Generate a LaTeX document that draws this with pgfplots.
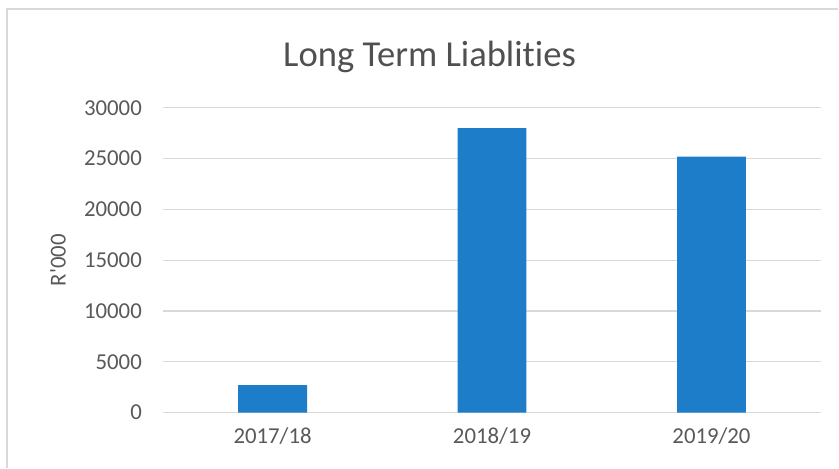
\documentclass[border=0pt]{standalone}
\usepackage{fontspec}
\setmainfont{Carlito}[Ligatures=CommonOff]
\usepackage{pgfplots}
\pgfplotsset{compat=1.18}
\definecolor{barblue}{HTML}{1E7DC8}
\definecolor{gridgray}{HTML}{D9D9D9}
\definecolor{textgray}{HTML}{595959}
\begin{document}
\begin{tikzpicture}
\begin{axis}[
    scale only axis,
    width=329.5pt, height=152.5pt,
    ybar, bar width=34.5pt,
    xmin=-0.5, xmax=2.5,
    ymin=0, ymax=30000,
    xtick=data,
    xticklabels={2017/18, 2018/19, 2019/20},
    ytick={0,5000,...,30000},
    scaled y ticks=false,
    /pgf/number format/assume math mode=true,
    yticklabel={\pgfmathprintnumber[fixed, 1000 sep={}]{\tick}},
    ymajorgrids=true,
    grid style={gridgray, line width=0.6pt},
    axis x line*=bottom,
    axis y line*=left,
    x axis line style={gridgray, line width=0.6pt},
    y axis line style={draw=none},
    major tick length=0pt,
    ticklabel style={font=\fontsize{11.4}{13}\selectfont, text=textgray},
    yticklabel style={xshift=-7pt},
    xticklabel style={yshift=-4pt},
    ylabel={R\textquotesingle 000},
    every axis y label/.style={at={(-52.5pt,76.25pt)}, rotate=90, anchor=center,
        font=\fontsize{11.4}{13}\selectfont, text=textgray},
    clip=false,
]
\addplot[fill=barblue, draw=none] coordinates {(0,2700) (1,28000) (2,25200)};
\end{axis}
\node[font=\fontsize{18.3}{21}\selectfont, text=textgray!90!black] at (133.5pt,178pt) {Long Term Liablit\kern0pt ies};
\draw[gridgray, line width=0.8pt] (-78pt,-27.5pt) -- (-78pt,202pt) -- (338pt,202pt);
\useasboundingbox (-81.5pt,-27.5pt) rectangle (338pt,206.5pt);
\end{tikzpicture}
\end{document}
